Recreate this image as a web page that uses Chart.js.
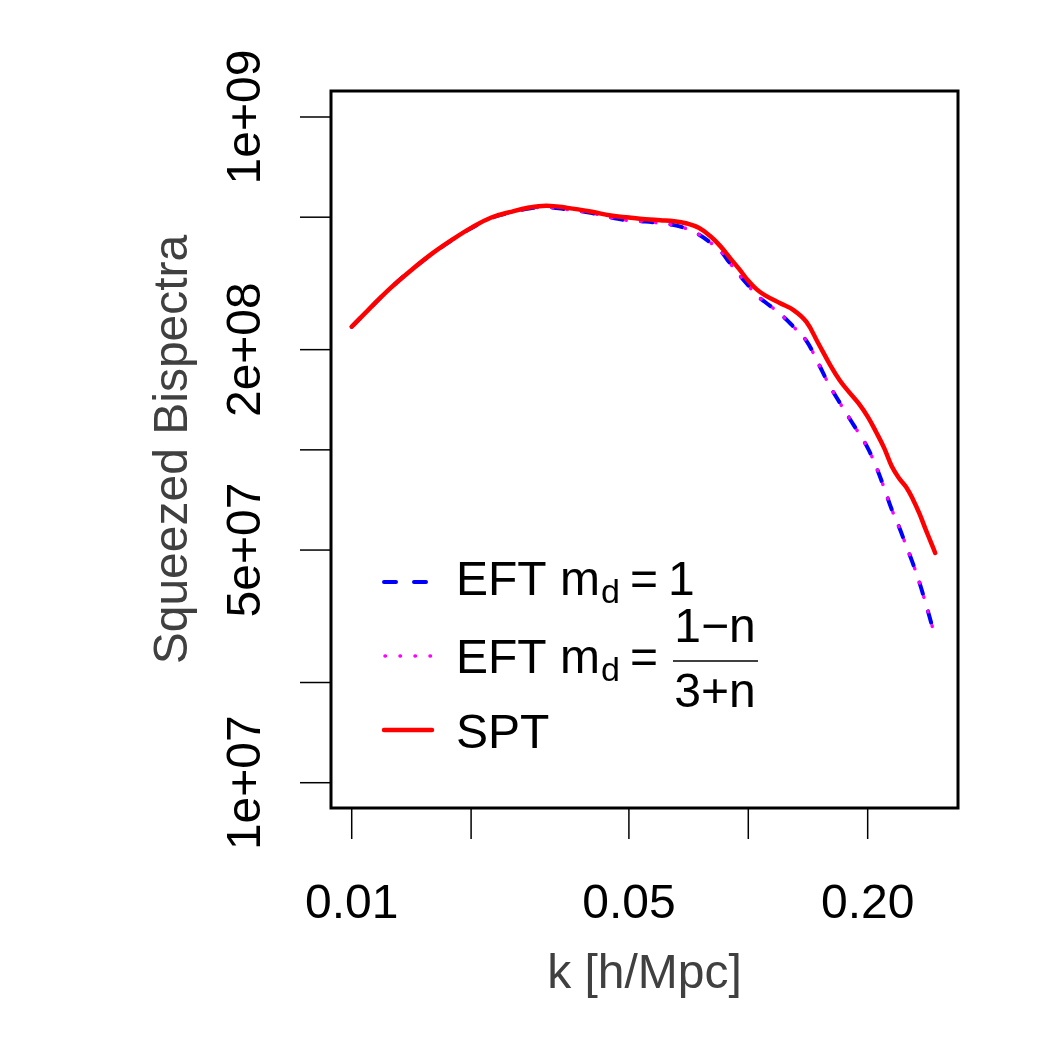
<!DOCTYPE html>
<html>
<head>
<meta charset="utf-8">
<script src="https://cdn.jsdelivr.net/npm/chart.js@4.4.0/dist/chart.umd.min.js"></script>
<style>
  html, body { margin: 0; padding: 0; background: #fff; }
  #wrap { width: 1050px; height: 1050px; }
</style>
</head>
<body>
<div id="wrap"><canvas id="bispectraChart" width="1050" height="1050"></canvas></div>
<script>
// k in h/Mpc, bispectra
const kValues = [0.01, 0.011, 0.0125, 0.014, 0.016, 0.018, 0.02, 0.0225, 0.025, 0.028,
  0.031, 0.035, 0.04, 0.045, 0.05, 0.055, 0.06, 0.065, 0.07, 0.075,
  0.08, 0.085, 0.09, 0.095, 0.1, 0.105, 0.11, 0.12, 0.13, 0.14,
  0.15, 0.16, 0.17, 0.18, 0.19, 0.2, 0.21, 0.22, 0.23, 0.24,
  0.25, 0.26, 0.27, 0.28, 0.29, 0.296];

const sptValues = [2.344e8, 2.630e8, 3.055e8, 3.436e8, 3.899e8, 4.295e8, 4.645e8, 4.989e8, 5.176e8, 5.346e8,
  5.414e8, 5.333e8, 5.200e8, 5.058e8, 4.989e8, 4.932e8, 4.898e8, 4.864e8, 4.786e8, 4.645e8,
  4.395e8, 4.093e8, 3.767e8, 3.483e8, 3.221e8, 3.034e8, 2.917e8, 2.761e8, 2.630e8, 2.427e8,
  2.094e8, 1.820e8, 1.618e8, 1.486e8, 1.377e8, 1.259e8, 1.132e8, 1.014e8, 8.93e7, 8.22e7,
  7.73e7, 7.11e7, 6.44e7, 5.77e7, 5.21e7, 4.90e7];

const eftOneValues = [2.344e8, 2.630e8, 3.055e8, 3.436e8, 3.890e8, 4.285e8, 4.634e8, 4.977e8, 5.152e8, 5.309e8,
  5.358e8, 5.272e8, 5.152e8, 4.989e8, 4.887e8, 4.853e8, 4.797e8, 4.732e8, 4.613e8, 4.436e8,
  4.207e8, 3.963e8, 3.631e8, 3.350e8, 3.119e8, 2.911e8, 2.786e8, 2.570e8, 2.344e8, 2.128e8,
  1.824e8, 1.567e8, 1.387e8, 1.242e8, 1.122e8, 1.014e8, 8.91e7, 7.69e7, 6.62e7, 5.86e7,
  5.16e7, 4.56e7, 4.00e7, 3.46e7, 2.99e7, 2.74e7];

const eftFracValues = [2.344e8, 2.630e8, 3.055e8, 3.436e8, 3.890e8, 4.285e8, 4.634e8, 4.977e8, 5.152e8, 5.309e8,
  5.358e8, 5.272e8, 5.152e8, 4.989e8, 4.887e8, 4.853e8, 4.797e8, 4.732e8, 4.613e8, 4.436e8,
  4.207e8, 3.963e8, 3.631e8, 3.350e8, 3.119e8, 2.911e8, 2.786e8, 2.570e8, 2.344e8, 2.128e8,
  1.824e8, 1.567e8, 1.387e8, 1.242e8, 1.122e8, 1.014e8, 8.91e7, 7.69e7, 6.62e7, 5.86e7,
  5.16e7, 4.56e7, 4.00e7, 3.46e7, 2.99e7, 2.74e7];

const xTicks = [0.01, 0.02, 0.05, 0.1, 0.2];
const xTickLabels = ["0.01", "", "0.05", "", "0.20"];
const yTicks = [1e7, 2e7, 5e7, 1e8, 2e8, 5e8, 1e9];
const yTickLabels = ["1e+07", "", "5e+07", "", "2e+08", "", "1e+09"];

const FONT = '"Liberation Sans", Arial, Helvetica, sans-serif';
const TITLE_COLOR = "#404040";

function toPoints(ys) {
  return kValues.map((k, i) => ({ x: k, y: ys[i] }));
}

// R-style box, ticks, labels and legend
const rStyle = {
  id: "rStyle",
  afterDraw(chart) {
    const { ctx, chartArea: a } = chart;
    const xs = chart.scales.x, ys = chart.scales.y;
    ctx.save();

    ctx.strokeStyle = "#000";
    ctx.lineWidth = 3;
    ctx.strokeRect(a.left, a.top, a.right - a.left, a.bottom - a.top);

    ctx.lineWidth = 1.5;
    ctx.fillStyle = "#000";
    ctx.font = "48px " + FONT;
    ctx.textAlign = "center";
    ctx.textBaseline = "alphabetic";
    xTicks.forEach((t, i) => {
      const px = xs.getPixelForValue(t);
      ctx.beginPath();
      ctx.moveTo(px, a.bottom);
      ctx.lineTo(px, a.bottom + 31);
      ctx.stroke();
      if (xTickLabels[i]) ctx.fillText(xTickLabels[i], px, 918);
    });
    yTicks.forEach((t, i) => {
      const py = ys.getPixelForValue(t);
      ctx.beginPath();
      ctx.moveTo(a.left, py);
      ctx.lineTo(a.left - 31, py);
      ctx.stroke();
      if (yTickLabels[i]) {
        ctx.save();
        ctx.translate(260, py);
        ctx.rotate(-Math.PI / 2);
        ctx.fillText(yTickLabels[i], 0, 0);
        ctx.restore();
      }
    });

    // axis titles
    ctx.fillStyle = TITLE_COLOR;
    ctx.fillText("k [h/Mpc]", (a.left + a.right) / 2, 988);
    ctx.save();
    ctx.translate(187, (a.top + a.bottom) / 2);
    ctx.rotate(-Math.PI / 2);
    ctx.fillText("Squeezed Bispectra", 0, 0);
    ctx.restore();

    // legend
    ctx.fillStyle = "#000";
    ctx.lineCap = "round";
    ctx.strokeStyle = "#0000ff";
    ctx.lineWidth = 4;
    ctx.setLineDash([12, 18]);
    ctx.beginPath(); ctx.moveTo(384, 582); ctx.lineTo(432, 582); ctx.stroke();
    ctx.strokeStyle = "#ff00ff";
    ctx.lineWidth = 3.5;
    ctx.setLineDash([0.5, 14.5]);
    ctx.beginPath(); ctx.moveTo(385, 656); ctx.lineTo(432, 656); ctx.stroke();
    ctx.setLineDash([]);
    ctx.strokeStyle = "#ff0000";
    ctx.lineWidth = 4.5;
    ctx.beginPath(); ctx.moveTo(384, 730); ctx.lineTo(432, 730); ctx.stroke();

    ctx.textAlign = "left";
    const tx = 456;
    function eftLabel(base) {
      ctx.font = "48px " + FONT;
      ctx.fillText("EFT m", tx, base);
      const w = ctx.measureText("EFT m").width;
      ctx.font = "34px " + FONT;
      ctx.fillText("d", tx + w + 1, base + 8);
      ctx.font = "48px " + FONT;
      ctx.fillText("=", 630, base);
    }
    eftLabel(595);
    ctx.fillText("1", 668, 595);

    eftLabel(673);
    ctx.textAlign = "center";
    ctx.fillText("1\u2212n", 715, 642);
    ctx.fillText("3+n", 715, 707);
    ctx.strokeStyle = "#000";
    ctx.lineWidth = 1.5;
    ctx.lineCap = "butt";
    ctx.beginPath(); ctx.moveTo(673, 661); ctx.lineTo(758, 661); ctx.stroke();

    ctx.textAlign = "left";
    ctx.fillText("SPT", tx, 748);
    ctx.restore();
  }
};

new Chart(document.getElementById("bispectraChart"), {
  type: "line",
  data: {
    datasets: [
      {
        label: "SPT",
        data: toPoints(sptValues),
        borderColor: "#ff0000",
        borderWidth: 4.5,
        borderCapStyle: "round",
        borderJoinStyle: "round",
        order: 0,
      },
      {
        label: "EFT m_d = (1-n)/(3+n)",
        data: toPoints(eftFracValues),
        borderColor: "#ff00ff",
        borderWidth: 3.5,
        borderDash: [0.5, 14.5],
        borderCapStyle: "round",
        order: 1,
      },
      {
        label: "EFT m_d = 1",
        data: toPoints(eftOneValues),
        borderColor: "#0000ff",
        borderWidth: 4,
        borderDash: [12, 18],
        borderCapStyle: "round",
        order: 2,
      },
    ],
  },
  options: {
    responsive: false,
    animation: false,
    layout: { padding: { left: 331, right: 92, top: 91, bottom: 242 } },
    elements: {
      point: { radius: 0 },
      line: { tension: 0.4, fill: false },
    },
    plugins: {
      legend: { display: false },
      tooltip: { enabled: false },
    },
    scales: {
      x: { type: "logarithmic", display: false, min: 0.008867, max: 0.3379 },
      y: { type: "logarithmic", display: false, min: 8.395e6, max: 1.197e9 },
    },
  },
  plugins: [rStyle],
});
</script>
</body>
</html>
